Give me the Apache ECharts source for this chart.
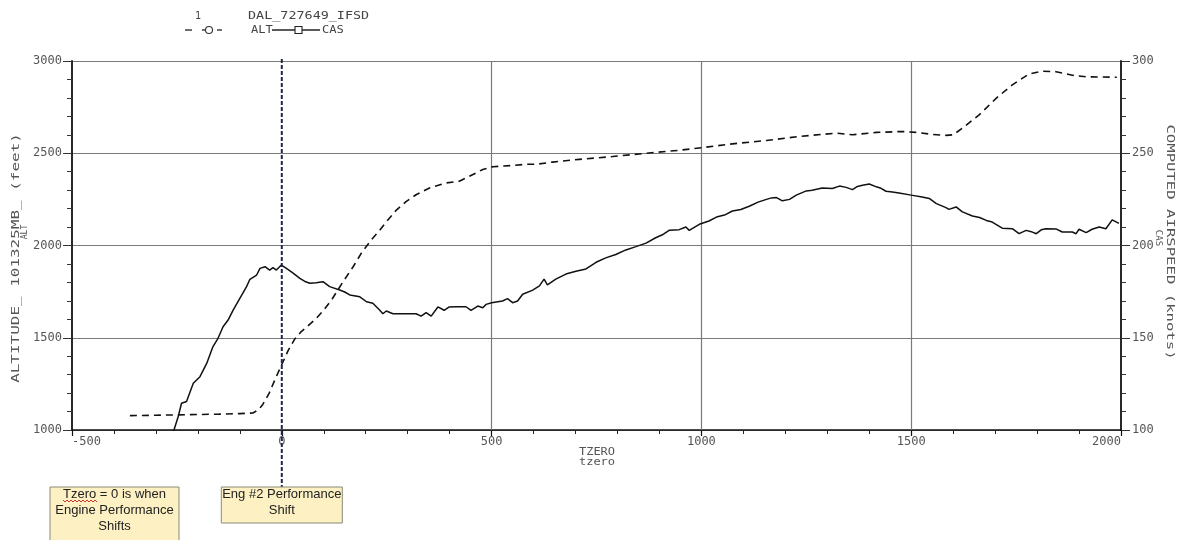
<!DOCTYPE html>
<html>
<head>
<meta charset="utf-8">
<script src="https://cdn.jsdelivr.net/npm/echarts@6/dist/echarts.min.js"></script>
<style>
html,body{margin:0;padding:0;background:#fff;}
#chart{width:1179px;height:540px;}
</style>
</head>
<body>
<div id="chart"></div>
<script>
// ---- data ----
const altT = [-362,-300,-250,-200,-150,-100,-69,-55,-45,-30,-15,0,15,30,45,60,80,100,120,145,170,190,213,233,249,273,296,320,352,391,423,447,479,503,550,582,606,645,709,788,868,947,1000,1074,1155,1233,1321,1360,1417,1480,1512,1552,1583,1600,1622,1662,1703,1741,1781,1812,1845,1884,1917,1990];
const altV = [1078,1080,1082,1084,1086,1089,1092,1110,1140,1200,1280,1355,1430,1490,1530,1560,1600,1650,1710,1800,1885,1960,2030,2082,2128,2192,2238,2275,2312,2339,2348,2375,2412,2427,2434,2440,2440,2452,2467,2482,2500,2516,2530,2551,2569,2591,2609,2600,2613,2618,2613,2602,2597,2600,2636,2708,2799,2871,2930,2945,2942,2923,2914,2912];

const casT = [-262,-257,-247,-239,-227,-211,-195,-179,-164,-152,-140,-128,-116,-100,-84,-76,-60,-52,-40,-29,-21,-13,-1,11,27,43,55,67,82,98,114,138,150,162,186,202,217,233,241,249,265,290,320,332,344,356,372,387,399,415,439,451,467,479,487,500,526,538,550,562,574,598,614,625,633,653,677,701,725,749,772,796,820,844,868,891,907,923,947,963,971,995,1018,1036,1055,1074,1094,1114,1135,1155,1167,1179,1193,1210,1226,1250,1264,1288,1312,1329,1345,1360,1372,1384,1400,1417,1428,1440,1455,1471,1500,1526,1543,1560,1583,1590,1607,1622,1646,1663,1679,1693,1717,1741,1757,1774,1786,1798,1810,1821,1845,1860,1884,1893,1900,1917,1931,1948,1964,1979,1995];
const casV = [98,100,107.2,114.5,115.4,125.3,128.9,136.1,145.2,149.7,156,159.6,165,171.4,177.7,181.7,184,187.6,188.5,186.7,188,186.7,189.4,187.6,185,182.2,180.5,179.5,179.8,180.4,177.7,175.9,174.8,173.2,172.2,169.5,168.7,165,163,164.5,163,163,163,161.7,163.6,161.7,166.7,164.9,166.7,166.8,166.8,164.9,167.2,166.3,168.1,169,169.9,171.2,169,169.9,173.6,175.8,178.1,181.8,178.7,181.8,184.5,186,187.3,190.9,193.3,195.1,197.6,199.4,201.3,204.2,205.8,208.2,208.6,210,208.2,211.5,213.3,215.4,216.5,218.7,219.5,221.3,223.5,225,225.8,226,224.2,225,227.3,229.6,230,231.2,230.9,232.2,231.5,230.3,232,232.7,233.3,231.8,231,229.4,229,228.5,227.3,226.3,225.5,222.7,220.5,219.6,220.9,218.2,216,215.2,213.6,212.7,209.4,209.1,206.4,208.2,207.5,206.4,208.5,209.1,209,207.3,207.3,206.4,208.8,207,208.8,210,209.1,213.9,212];

const xTicks = {min: -500, max: 2000, step: 500};
const xGridAt = [500, 1000, 1500];
const altTicks = {min: 1000, max: 3000, step: 500};
const casTicks = {min: 100, max: 300, step: 50};
const shiftT = 0;

// ---- chart ----
const chart = echarts.init(document.getElementById('chart'), null, {renderer: 'canvas'});
const lblFont = {color: '#555', fontFamily: 'DejaVu Sans Mono', fontSize: 12, formatter: v => String(v)};

chart.setOption({
  animation: false,
  backgroundColor: '#fff',
  grid: {left: 72, right: 58, top: 61, bottom: 110, containLabel: false},
  xAxis: {
    type: 'value', min: xTicks.min, max: xTicks.max, interval: xTicks.step,
    axisLine: {show: true, onZero: false, lineStyle: {color: '#111', width: 1.6}},
    axisTick: {show: true, length: 6, lineStyle: {color: '#111', width: 1.2}},
    minorTick: {show: true, splitNumber: 5, length: 4, lineStyle: {color: '#222', width: 1}},
    splitLine: {show: false},
    axisLabel: Object.assign({margin: 6, alignMinLabel: 'left', alignMaxLabel: 'right'}, lblFont)
  },
  yAxis: [{
    type: 'value', position: 'left', min: altTicks.min, max: altTicks.max, interval: altTicks.step,
    axisLine: {show: true, onZero: false, lineStyle: {color: '#111', width: 1.8}},
    axisTick: {show: true, length: 9, lineStyle: {color: '#333', width: 1}},
    minorTick: {show: true, splitNumber: 5, length: 5, lineStyle: {color: '#333', width: 1}},
    splitLine: {show: true, lineStyle: {color: '#7a7a7a', width: 1.2}},
    axisLabel: Object.assign({margin: 10}, lblFont)
  }, {
    type: 'value', position: 'right', min: casTicks.min, max: casTicks.max, interval: casTicks.step,
    axisLine: {show: true, onZero: false, lineStyle: {color: '#111', width: 1.8}},
    axisTick: {show: true, length: 9, lineStyle: {color: '#333', width: 1}},
    minorTick: {show: true, splitNumber: 5, length: 5, lineStyle: {color: '#333', width: 1}},
    splitLine: {show: false},
    axisLabel: Object.assign({margin: 11}, lblFont)
  }],
  series: [{
    name: 'ALT', type: 'line', yAxisIndex: 0, showSymbol: false, symbol: 'none', clip: true,
    data: altT.map((t, i) => [t, altV[i]]),
    lineStyle: {color: '#111', width: 1.6, type: [7, 5]},
    markLine: {
      silent: true, symbol: 'none', label: {show: false}, z: 1,
      lineStyle: {color: '#7a7a7a', width: 1.2, type: 'solid'},
      data: xGridAt.map(v => ({xAxis: v}))
    }
  }, {
    name: 'CAS', type: 'line', yAxisIndex: 1, showSymbol: false, symbol: 'none', clip: true,
    data: casT.map((t, i) => [t, casV[i]]),
    lineStyle: {color: '#111', width: 1.5}
  }]
});

// ---- annotations / legend / axis names ----
const x0 = chart.convertToPixel({xAxisIndex: 0}, shiftT);
const yTop = chart.convertToPixel({yAxisIndex: 0}, altTicks.max);
const boxTop = 487;
const nameFont = 'DejaVu Sans Mono';
const boxText = {fontFamily: 'Liberation Sans', fontSize: 13, fill: '#222', align: 'center', verticalAlign: 'middle', lineHeight: 16};

function wavy(x1, x2, y) {
  const pts = [];
  let up = true;
  for (let x = x1; x <= x2; x += 2) { pts.push([x, up ? y : y + 2]); up = !up; }
  return pts;
}

chart.setOption({
  graphic: [
    // dashed shift line at tzero = 0 (extends below plot to the note box)
    {type: 'line', z: 50, shape: {x1: x0, y1: yTop - 2, x2: x0, y2: boxTop},
     style: {stroke: '#1d2a47', lineWidth: 2, lineDash: [4, 2]}},
    // note boxes
    {type: 'rect', z: 60, shape: {x: 50, y: boxTop, width: 129, height: 70},
     style: {fill: '#fdf1c3', stroke: '#8a8a7a', lineWidth: 1}},
    {type: 'text', z: 61, x: 114.5, y: 510,
     style: Object.assign({text: 'Tzero = 0 is when\nEngine Performance\nShifts'}, boxText)},
    {type: 'polyline', z: 62, shape: {points: wavy(63, 97, 500)},
     style: {stroke: '#d03030', lineWidth: 1, fill: null}},
    {type: 'rect', z: 60, shape: {x: x0 - 60.5, y: boxTop, width: 121, height: 36},
     style: {fill: '#fdf1c3', stroke: '#8a8a7a', lineWidth: 1}},
    {type: 'text', z: 61, x: x0, y: 502,
     style: Object.assign({text: 'Eng #2 Performance\nShift'}, boxText)},

    // legend
    {type: 'text', x: 198, y: 16, style: {text: '1', fontFamily: nameFont, fontSize: 10, fill: '#444', align: 'center', verticalAlign: 'middle'}},
    {type: 'line', shape: {x1: 185, y1: 30, x2: 192, y2: 30}, style: {stroke: '#333', lineWidth: 1.4}},
    {type: 'line', shape: {x1: 202, y1: 30, x2: 206, y2: 30}, style: {stroke: '#333', lineWidth: 1.4}},
    {type: 'circle', shape: {cx: 209, cy: 30, r: 3.5}, style: {stroke: '#333', fill: 'none', lineWidth: 1.1}},
    {type: 'line', shape: {x1: 217, y1: 30, x2: 222, y2: 30}, style: {stroke: '#333', lineWidth: 1.4}},
    {type: 'text', x: 248, y: 16, scaleX: 1.22, style: {text: 'DAL_727649_IFSD', fontFamily: nameFont, fontSize: 11, fill: '#444', align: 'left', verticalAlign: 'middle'}},
    {type: 'text', x: 251, y: 30, scaleX: 1.1, style: {text: 'ALT', fontFamily: nameFont, fontSize: 11, fill: '#444', align: 'left', verticalAlign: 'middle'}},
    {type: 'line', shape: {x1: 272, y1: 30, x2: 320, y2: 30}, style: {stroke: '#222', lineWidth: 1.4}},
    {type: 'rect', shape: {x: 295, y: 26.5, width: 7, height: 7}, style: {stroke: '#222', fill: '#fff', lineWidth: 1.1}},
    {type: 'text', x: 322, y: 30, scaleX: 1.1, style: {text: 'CAS', fontFamily: nameFont, fontSize: 11, fill: '#444', align: 'left', verticalAlign: 'middle'}},

    // axis names
    {type: 'text', x: 16, y: 258, rotation: Math.PI / 2, scaleX: 1.45,
     style: {text: 'ALTITUDE_ 101325MB_ (feet)', fontFamily: nameFont, fontSize: 11, fill: '#555', align: 'center', verticalAlign: 'middle'}},
    {type: 'text', x: 25, y: 232, rotation: Math.PI / 2,
     style: {text: 'ALT', fontFamily: nameFont, fontSize: 8, fill: '#555', align: 'center', verticalAlign: 'middle'}},
    {type: 'text', x: 1170, y: 242, rotation: -Math.PI / 2, scaleX: 1.42,
     style: {text: 'COMPUTED AIRSPEED (knots)', fontFamily: nameFont, fontSize: 11, fill: '#555', align: 'center', verticalAlign: 'middle'}},
    {type: 'text', x: 1158, y: 238, rotation: -Math.PI / 2,
     style: {text: 'CAS', fontFamily: nameFont, fontSize: 9, fill: '#555', align: 'center', verticalAlign: 'middle'}},
    {type: 'text', x: 597, y: 452, scaleX: 1.2,
     style: {text: 'TZERO', fontFamily: nameFont, fontSize: 10, fill: '#555', align: 'center', verticalAlign: 'middle'}},
    {type: 'text', x: 597, y: 462, scaleX: 1.2,
     style: {text: 'tzero', fontFamily: nameFont, fontSize: 10, fill: '#555', align: 'center', verticalAlign: 'middle'}}
  ]
});
</script>
</body>
</html>
